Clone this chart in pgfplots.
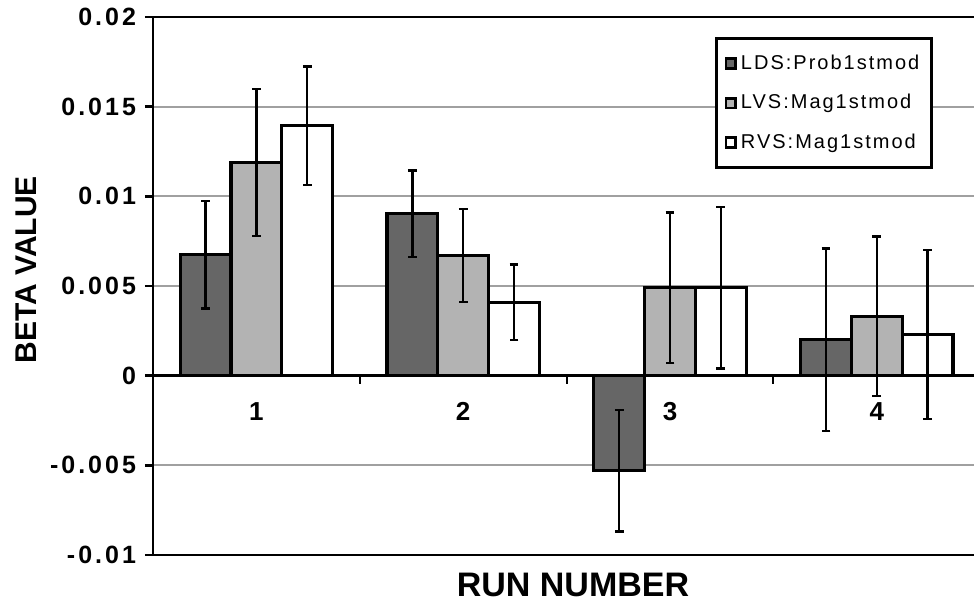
\documentclass[border=0pt]{standalone}
\usepackage{pgfplots}
\pgfplotsset{compat=1.18}
\usepackage{pgfplotstable}
\usepackage{fontspec}
\setmainfont{Liberation Sans}
\newfontfamily\tickfont[LetterSpace=12]{Liberation Sans}
\newfontfamily\legfont[LetterSpace=10]{Liberation Sans}
\definecolor{darkbar}{HTML}{666666}
\definecolor{lightbar}{HTML}{B3B3B3}
\definecolor{gridgray}{HTML}{A0A0A0}

\pgfplotstableread{
x y e
1 0.00675 0.0030
2 0.00903 0.0024
3 -0.0053 0.0034
4 0.0020 0.0051
}\lds
\pgfplotstableread{
x y e
1 0.0119 0.0041
2 0.0067 0.0026
3 0.0049 0.0042
4 0.0033 0.00445
}\lvs
\pgfplotstableread{
x y e
1 0.01393 0.0033
2 0.0041 0.0021
3 0.0049 0.0045
4 0.0023 0.0047
}\rvs

\begin{document}
\begin{tikzpicture}
\path[use as bounding box] (-76.5pt,-23pt) rectangle (410.5pt,277.5pt);
\begin{axis}[
  at={(0,0)}, anchor=south west,
  scale only axis, width=410.5pt, height=269pt,
  xmin=0.5, xmax=4.47, ymin=-0.01, ymax=0.02,
  clip=false,
  axis x line=middle, axis y line=left,
  axis line style={-, line width=1.3pt},
  ytick={-0.01,-0.005,0,0.005,0.01,0.015,0.02},
  scaled y ticks=false,
  yticklabel style={/pgf/number format/fixed, /pgf/number format/precision=3,
     font=\tickfont\bfseries\fontsize{12.5}{14}\selectfont, xshift=-1pt},
  /pgf/number format/assume math mode=true,
  ytick align=outside, major tick length=4pt,
  ytick style={line width=1.3pt, black},
  ymajorgrids, major grid style={gridgray, line width=1.1pt},
  xtick={1.5,2.5,3.5}, xticklabels={},
  xtick style={line width=1pt, black},
  xtick align=outside,
  extra x ticks={1,2,3,4},
  extra x tick labels={1,2,3,4},
  extra x tick style={major tick length=0pt, xticklabel style={anchor=center, yshift=-18pt, font=\bfseries\fontsize{13}{15}\selectfont}},
  ybar=0pt, bar width=25.4pt,
  legend style={at={(rel axis cs:0.685,0.962)}, anchor=north west,
     draw=black, line width=1.4pt, font=\legfont\fontsize{10}{12}\selectfont,
     row sep=7pt, inner xsep=4pt, inner ysep=6pt, cells={anchor=west}},
  legend image code/.code={\draw[#1, line width=1.3pt] (0.6pt,-2.4pt) rectangle (5.4pt,2.4pt);},
]
\addplot[fill=darkbar, draw=black, line width=1.6pt,
  error bars/.cd, y dir=both, y explicit,
  error bar style={line width=1.2pt, black},
  error mark options={rotate=90, mark size=2.2pt, line width=1.2pt, black}]
  table[x=x, y=y, y error=e] {\lds};
\addplot[fill=lightbar, draw=black, line width=1.6pt,
  error bars/.cd, y dir=both, y explicit,
  error bar style={line width=1.2pt, black},
  error mark options={rotate=90, mark size=2.2pt, line width=1.2pt, black}]
  table[x=x, y=y, y error=e] {\lvs};
\addplot[fill=white, draw=black, line width=1.6pt,
  error bars/.cd, y dir=both, y explicit,
  error bar style={line width=1.2pt, black},
  error mark options={rotate=90, mark size=2.2pt, line width=1.2pt, black}]
  table[x=x, y=y, y error=e] {\rvs};
\legend{LDS:Prob1stmod, LVS:Mag1stmod, RVS:Mag1stmod}
\draw[line width=1.3pt, black] (rel axis cs:0,1) -- (rel axis cs:1,1);
\draw[line width=1.3pt, black] (rel axis cs:0,0) -- (rel axis cs:1,0);
\node[font=\bfseries\fontsize{17}{20}\selectfont, anchor=center] at ([yshift=-15pt]rel axis cs:0.5116,0) {RUN NUMBER};
\node[font=\bfseries\fontsize{15}{18}\selectfont, anchor=center, rotate=90] at ([xshift=-63.5pt]rel axis cs:0,0.53) {BETA VALUE};
\end{axis}
\end{tikzpicture}
\end{document}
